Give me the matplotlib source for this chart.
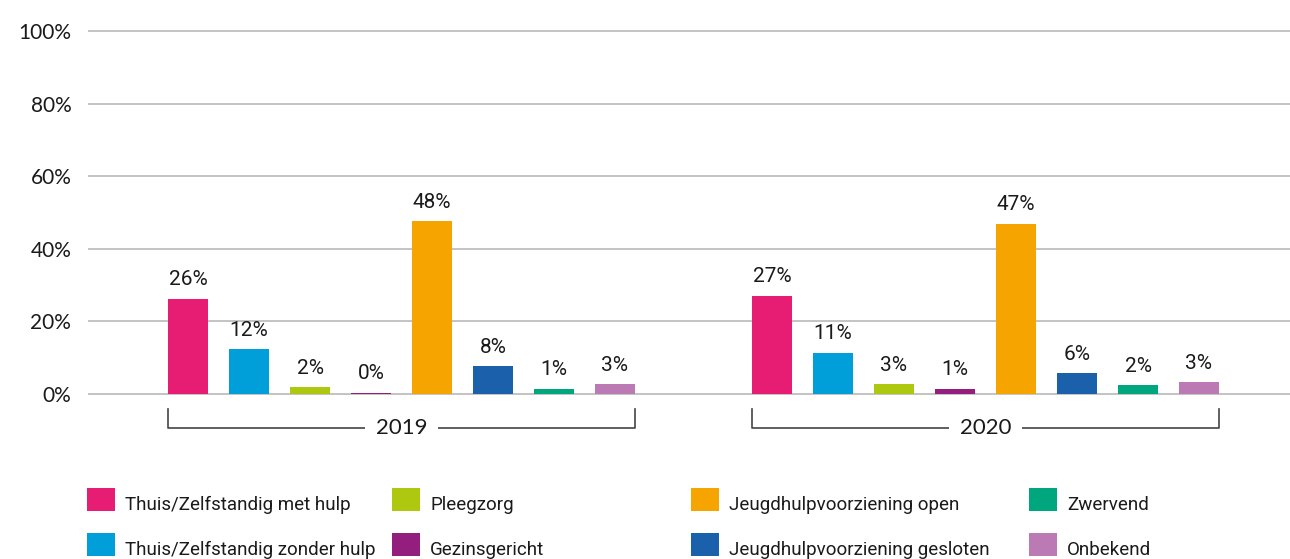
import matplotlib
matplotlib.use("Agg")
import matplotlib.pyplot as plt
from matplotlib.patches import Rectangle
import numpy as np

years = ["2019", "2020"]
categories = [
    "Thuis/Zelfstandig met hulp",
    "Thuis/Zelfstandig zonder hulp",
    "Pleegzorg",
    "Gezinsgericht",
    "Jeugdhulpvoorziening open",
    "Jeugdhulpvoorziening gesloten",
    "Zwervend",
    "Onbekend",
]
values_2019 = [26.2, 12.4, 1.9, 0.3, 47.6, 7.7, 1.4, 2.75]
values_2020 = [27.1, 11.4, 2.75, 1.4, 46.9, 5.8, 2.4, 3.3]
labels_2019 = ["26%", "12%", "2%", "0%", "48%", "8%", "1%", "3%"]
labels_2020 = ["27%", "11%", "3%", "1%", "47%", "6%", "2%", "3%"]
colors = ["#E71D73", "#009FDA", "#ADC80F", "#941E7E",
          "#F6A500", "#1B60AA", "#00A67E", "#BB7AB4"]
yticks = [0, 20, 40, 60, 80, 100]
ytick_labels = ["0%", "20%", "40%", "60%", "80%", "100%"]

narrow = ["Roboto", "DejaVu Sans"]
geo = ["Lato", "DejaVu Sans"]

W, H = 1290, 559
fig = plt.figure(figsize=(W / 100, H / 100), dpi=100)
ppu = 3.63
y0 = 394
bottom_px = y0 + 2 * ppu
top_px = y0 - 102 * ppu
ax = fig.add_axes([88 / W, 1 - bottom_px / H, 1 - 88 / W, (bottom_px - top_px) / H])
ax.set_ylim(-2, 102)
ax.set_xlim(-100 / 61, 1102 / 61)

group_offset = 584 / 61
bw = 40 / 61
x19 = np.arange(len(categories))
x20 = x19 + group_offset

for y in yticks:
    ax.axhline(y, color="#b3b3b3", lw=1.1, zorder=0)

for xs, vals, labs in [(x19, values_2019, labels_2019), (x20, values_2020, labels_2020)]:
    ax.bar(xs, vals, width=bw, color=colors, zorder=2)
    for x, v, l in zip(xs, vals, labs):
        ax.text(x, v + 2.6, l, ha="center", va="bottom", fontsize=15,
                family=narrow, color="#1a1a1a")

ax.set_yticks(yticks)
ax.set_yticklabels(ytick_labels, family=geo, fontsize=15, color="#1a1a1a")
ax.tick_params(axis="y", length=0, pad=12)
ax.set_xticks([])
for s in ax.spines.values():
    s.set_visible(False)

# group brackets
yb_top = -4.1
yb = -9.3
for xs, yr in [(x19, years[0]), (x20, years[1])]:
    xl = xs[0] - bw / 2
    xr = xs[-1] + bw / 2
    ax.plot([xl, xl, xr, xr], [yb_top, yb, yb, yb_top], color="#444444", lw=1.2,
            clip_on=False, zorder=1)
    ax.text((xl + xr) / 2, yb, yr, ha="center", va="center", fontsize=16,
            family=geo, color="#1a1a1a",
            bbox=dict(facecolor="white", edgecolor="none", pad=8), zorder=3)

# legend
col_x = [87, 392, 691, 1029]
row_y = [499, 544.5]
sq_w, sq_h = 28, 23
renderer = fig.canvas.get_renderer()
probe = fig.text(0, 0, categories[0], fontsize=10, family=narrow)
w10 = probe.get_window_extent(renderer).width
probe.remove()
leg_fs = 10 * 225 / w10
for i, (cat, col) in enumerate(zip(categories, colors)):
    c, r = divmod(i, 2)
    xp = col_x[c]
    yp = row_y[r]
    fig.patches.append(Rectangle((xp / W, 1 - (yp + sq_h / 2) / H), sq_w / W, sq_h / H,
                                 transform=fig.transFigure, facecolor=col, edgecolor="none"))
    fig.text((xp + 38) / W, 1 - (yp + sq_h / 2 - 1) / H, cat, ha="left", va="baseline",
             fontsize=leg_fs, family=narrow, color="#1a1a1a")

fig.savefig("out.png", dpi=100, facecolor="white")
